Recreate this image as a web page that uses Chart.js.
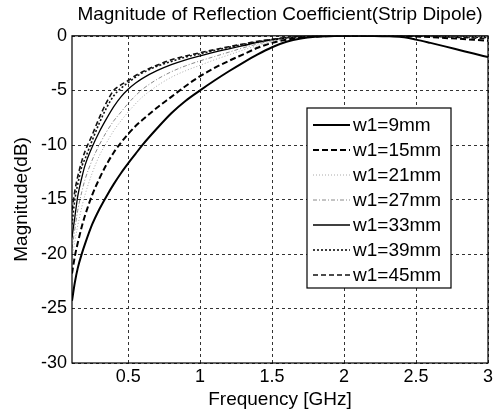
<!DOCTYPE html>
<html><head><meta charset="utf-8">
<script src="https://cdn.jsdelivr.net/npm/chart.js@4/dist/chart.umd.min.js"></script>
<style>html,body{margin:0;padding:0;background:#fff;}#wrap{width:497px;height:414px;}</style>
</head><body><div id="wrap"><canvas id="c" width="497" height="414"></canvas></div>
<script>
const titleText = "Magnitude of Reflection Coefficient(Strip Dipole)";
const xTitle = "Frequency [GHz]";
const yTitle = "Magnitude(dB)";
const xTicks = [0.5, 1, 1.5, 2, 2.5, 3];
const yTicks = [-30, -25, -20, -15, -10, -5, 0];
const seriesNames = ["w1=9mm","w1=15mm","w1=21mm","w1=27mm","w1=33mm","w1=39mm","w1=45mm"];
const freq = [0.11,0.13,0.15,0.18,0.2,0.25,0.3,0.35,0.4,0.45,0.5,0.55,0.6,0.7,0.8,0.9,1.0,1.1,1.2,1.3,1.4,1.5,1.6,1.7,1.8,1.9,2.0,2.1,2.2,2.3,2.4,2.5,2.6,2.7,2.8,2.9,3.0];
const w9  = [-24.3,-22.6,-21.3,-19.9,-19.1,-17.3,-15.9,-14.7,-13.6,-12.6,-11.7,-10.85,-10.0,-8.5,-7.1,-5.95,-5.0,-4.1,-3.25,-2.45,-1.7,-1.05,-0.55,-0.25,-0.09,-0.03,0,0,-0.01,-0.04,-0.12,-0.35,-0.65,-0.97,-1.3,-1.63,-1.95];
const w15 = [-21.8,-20.2,-19.0,-17.4,-16.5,-14.6,-13.1,-11.8,-10.7,-9.8,-9.0,-8.3,-7.7,-6.6,-5.6,-4.6,-3.7,-2.95,-2.3,-1.7,-1.1,-0.65,-0.35,-0.17,-0.07,-0.02,0,0,0,0,-0.02,-0.06,-0.12,-0.2,-0.27,-0.36,-0.45];
const w21 = [-20.5,-18.8,-17.4,-15.6,-14.6,-12.6,-11.0,-9.8,-8.7,-7.8,-7.0,-6.25,-5.6,-4.6,-3.8,-3.2,-2.7,-2.2,-1.75,-1.3,-0.9,-0.55,-0.3,-0.15,-0.06,-0.02,0,0,0,0,0,0,0,-0.01,-0.02,-0.04,-0.06];
const w27 = [-19.5,-17.7,-16.0,-14.2,-13.2,-11.4,-10.0,-8.8,-7.8,-7.0,-6.2,-5.5,-4.9,-4.0,-3.3,-2.75,-2.3,-1.9,-1.5,-1.1,-0.75,-0.45,-0.25,-0.12,-0.05,-0.01,0,0,0,0,0,0,0,-0.01,-0.02,-0.03,-0.05];
const w33 = [-18.5,-16.6,-14.7,-12.9,-11.9,-10.2,-8.8,-7.6,-6.5,-5.6,-4.9,-4.35,-3.9,-3.2,-2.65,-2.2,-1.85,-1.5,-1.2,-0.9,-0.6,-0.38,-0.2,-0.1,-0.04,-0.01,0,0,0,0,0,0,-0.01,-0.02,-0.03,-0.05,-0.08];
const w39 = [-17.3,-15.0,-13.6,-11.9,-11.3,-9.6,-8.0,-6.6,-5.5,-4.8,-4.3,-3.8,-3.4,-2.8,-2.35,-1.95,-1.65,-1.35,-1.05,-0.8,-0.55,-0.35,-0.18,-0.09,-0.03,-0.01,0,0,0,0,0,-0.01,-0.03,-0.05,-0.08,-0.12,-0.16];
const w45 = [-16.0,-14.2,-12.9,-11.4,-10.6,-9.1,-7.5,-6.1,-5.0,-4.5,-4.1,-3.65,-3.3,-2.7,-2.2,-1.85,-1.55,-1.27,-1.0,-0.75,-0.5,-0.32,-0.17,-0.08,-0.03,-0.01,0,0,0,0,0,-0.02,-0.05,-0.09,-0.14,-0.2,-0.26];

const seriesValues = [w9,w15,w21,w27,w33,w39,w45];
const styles = [
  {color:'#000', width:2, dash:[]},
  {color:'#000', width:2, dash:[6,3]},
  {color:'#aaa', width:1, dash:[1,2]},
  {color:'#888', width:1, dash:[4,2,1,2]},
  {color:'#000', width:1.3, dash:[]},
  {color:'#111', width:1.6, dash:[2,2]},
  {color:'#111', width:1.6, dash:[5,3]}
];
const FONT = "'Liberation Sans', Arial, sans-serif";

const datasets = seriesNames.map((n,i)=>({
  label:n,
  data: freq.map((f,j)=>({x:f,y:seriesValues[i][j]})),
  borderColor: styles[i].color,
  borderWidth: styles[i].width,
  borderDash: styles[i].dash,
  pointRadius:0,
  fill:false,
  cubicInterpolationMode:'monotone'
}));

const framePlugin = {
  id:'frame',
  beforeDatasetsDraw(chart){
    const {ctx, chartArea:a} = chart;
    const xs = chart.scales.x, ys = chart.scales.y;
    ctx.save();
    ctx.strokeStyle='#333'; ctx.lineWidth=1; ctx.setLineDash([3,3]);
    ctx.beginPath();
    xTicks.forEach(t=>{const px=Math.round(xs.getPixelForValue(t))+0.5; ctx.moveTo(px,a.bottom); ctx.lineTo(px,a.top);});
    yTicks.forEach(t=>{const py=Math.round(ys.getPixelForValue(t))+0.5; ctx.moveTo(a.left,py); ctx.lineTo(a.right,py);});
    ctx.stroke();
    ctx.restore();
  },
  afterDatasetsDraw(chart){
    const {ctx, chartArea:a} = chart;
    ctx.save();
    ctx.strokeStyle='#000'; ctx.lineWidth=1.2; ctx.setLineDash([]);
    ctx.strokeRect(a.left, a.top, a.right-a.left, a.bottom-a.top);
    ctx.restore();
  },
  afterDraw(chart){
    const {ctx} = chart;
    const bx=307, by=108, bw=144, bh=180;
    ctx.save();
    ctx.fillStyle='#fff'; ctx.fillRect(bx,by,bw,bh);
    ctx.strokeStyle='#000'; ctx.lineWidth=1.2; ctx.setLineDash([]);
    ctx.strokeRect(bx,by,bw,bh);
    ctx.font = "19px " + FONT;
    ctx.textBaseline='middle'; ctx.textAlign='left'; ctx.fillStyle='#000';
    chart.data.datasets.forEach((d,i)=>{
      const y = by + 17 + i*25;
      ctx.beginPath();
      ctx.strokeStyle=d.borderColor; ctx.lineWidth=d.borderWidth; ctx.setLineDash(d.borderDash);
      ctx.moveTo(bx+6,y); ctx.lineTo(bx+43,y); ctx.stroke();
      ctx.setLineDash([]);
      ctx.fillText(d.label, bx+46, y+1);
    });
    ctx.restore();
  }
};

new Chart(document.getElementById('c'), {
  type:'line',
  data:{datasets},
  options:{
    responsive:false, animation:false,
    layout:{padding:{left:0,right:9,top:0,bottom:0}},
    plugins:{
      legend:{display:false},
      tooltip:{enabled:false},
      title:{display:true, fullSize:false, text:titleText, color:'#000', font:{family:FONT,size:19,weight:'normal'}, padding:{top:3,bottom:10}}
    },
    scales:{
      x:{type:'linear', min:0.11, max:3,
        afterBuildTicks(s){ s.ticks = xTicks.map(v=>({value:v})); },
        afterFit(s){ s.height = 51; },
        grid:{display:false, drawTicks:false},
        border:{display:false},
        ticks:{color:'#000', font:{family:FONT,size:18}, padding:3, maxRotation:0, callback:v=>String(v)},
        title:{display:true, text:xTitle, color:'#000', font:{family:FONT,size:19}, padding:{top:0,bottom:3}}
      },
      y:{type:'linear', min:-30, max:0,
        afterBuildTicks(s){ s.ticks = yTicks.map(v=>({value:v})); },
        afterFit(s){ s.width = 72; },
        grid:{display:false, drawTicks:false},
        border:{display:false},
        ticks:{color:'#000', font:{family:FONT,size:18}, padding:5, callback:v=>String(v)},
        title:{display:true, text:yTitle, color:'#000', font:{family:FONT,size:19}, padding:{top:10,bottom:0}}
      }
    }
  },
  plugins:[framePlugin]
});
</script>
</body></html>
